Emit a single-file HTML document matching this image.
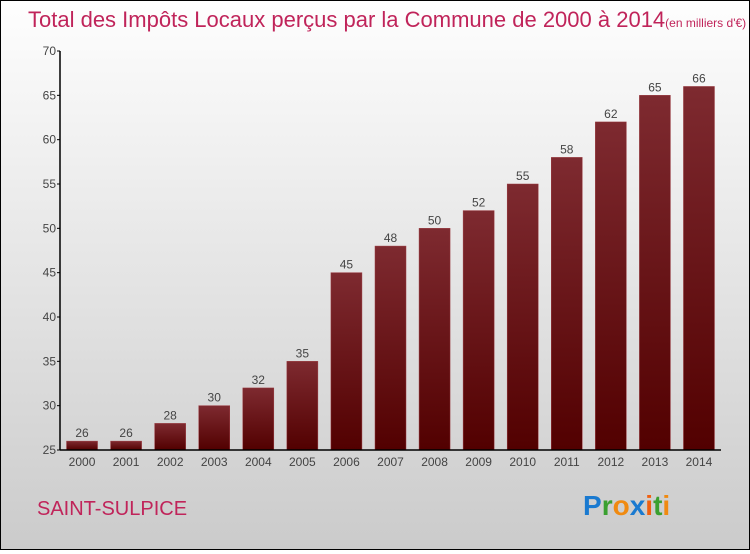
<!DOCTYPE html>
<html><head><meta charset="utf-8"><style>
html,body{margin:0;padding:0}
body{width:750px;height:550px;overflow:hidden;font-family:"Liberation Sans",sans-serif}
#wrap{position:relative;width:748px;height:548px;border:1px solid #000;background:linear-gradient(#fefefe,#cbcbcb)}
</style></head><body>
<div id="wrap">
<svg id="chart" width="748" height="548">
<text x="27" y="26" font-size="22" fill="#c0245a" font-weight="300">Total des Impôts Locaux perçus par la Commune de 2000 à 2014<tspan font-size="12">(en milliers d'€)</tspan></text>
<text x="36" y="514" font-size="20" fill="#c0245a">SAINT-SULPICE</text>
<g font-size="28" font-weight="bold">
<text x="582" y="514"><tspan fill="#1a7ad0">P</tspan><tspan fill="#3aa030">r</tspan><tspan fill="#f08a10">o</tspan><tspan fill="#1a7ad0">x</tspan><tspan fill="#f06010">i</tspan><tspan fill="#3aa030">t</tspan><tspan fill="#f08a10">i</tspan></text>
</g>
<defs><linearGradient id="bg" x1="0" y1="0" x2="0" y2="1"><stop offset="0" stop-color="#7e2a30"/><stop offset="1" stop-color="#520000"/></linearGradient></defs>
<g id="bars"></g><g id="axes"></g>
</svg>
</div>
<script>
const years=["2000","2001","2002","2003","2004","2005","2006","2007","2008","2009","2010","2011","2012","2013","2014"];
const values=[26,26,28,30,32,35,45,48,50,52,55,58,62,65,66];
const yTicks=[25,30,35,40,45,50,55,60,65,70];
const ns="http://www.w3.org/2000/svg";
const x0=59,x1=720,yMin=25,yMax=70,yTop=50,yBot=449;
const step=(x1-x0)/years.length, bw=31;
function y(v){return yBot-(v-yMin)/(yMax-yMin)*(yBot-yTop);}
function xc(i){return x0+step*(i+0.5);}
function mk(t,a,p){const e=document.createElementNS(ns,t);for(const k in a)e.setAttribute(k,a[k]);p.appendChild(e);return e;}
const bars=document.getElementById('bars'),axes=document.getElementById('axes');
values.forEach((v,i)=>{
 const r=mk('rect',{x:xc(i)-bw/2,y:y(v),width:bw,height:yBot-y(v),fill:'url(#bg)',stroke:'#9a3a40','stroke-width':0.5},bars);
 
 
 const t=mk('text',{x:xc(i),y:y(v)-4,'text-anchor':'middle','font-size':12,fill:'#444'},bars);t.textContent=v;
 
 
 const l=mk('text',{x:xc(i),y:yBot+16,'text-anchor':'middle','font-size':12,fill:'#444'},axes);l.textContent=years[i];
 
 
});
const ya=mk('line',{x1:x0,y1:yTop,x2:x0,y2:yBot,stroke:'#000','stroke-width':1.5},axes);


const xa=mk('line',{x1:x0,y1:yBot,x2:x1,y2:yBot,stroke:'#000','stroke-width':1.5},axes);


yTicks.forEach(v=>{
 mk('line',{x1:x0-3,y1:y(v),x2:x0,y2:y(v),stroke:'#000'},axes);
 const t=mk('text',{x:x0-4,y:y(v)+4,'text-anchor':'end','font-size':12,fill:'#444'},axes);t.textContent=v;
 
 
});
</script>
</body></html>
